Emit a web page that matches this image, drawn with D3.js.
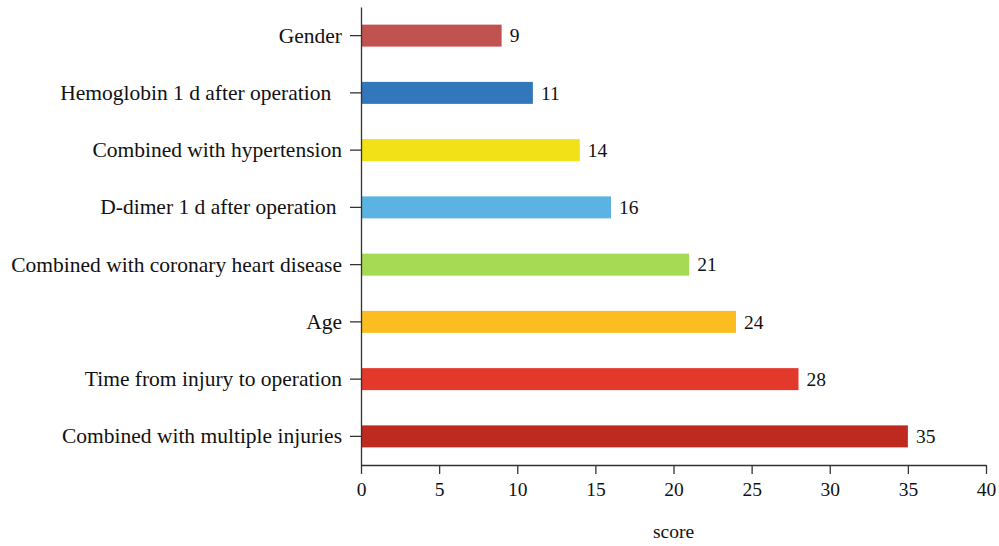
<!DOCTYPE html>
<html><head><meta charset="utf-8">
<script src="https://cdn.jsdelivr.net/npm/d3@7/dist/d3.min.js"></script>
<style>
body{margin:0;background:#fff;}
svg text{font-family:"Liberation Serif","DejaVu Serif",serif;fill:#111;white-space:pre;}
</style></head>
<body><svg id="c" width="999" height="546"></svg>
<script>
const categories = ["Gender","Hemoglobin 1 d after operation  ","Combined with hypertension","D-dimer 1 d after operation ","Combined with coronary heart disease","Age","Time from injury to operation","Combined with multiple injuries"];
const scores = [9,11,14,16,21,24,28,35];
const colors = ["#c0524f","#3277bb","#f2e116","#5ab3e0","#a6d954","#fbbd22","#e2392a","#bf2a20"];
const xTicks = [0,5,10,15,20,25,30,35,40];
const xTitle = "score";

const svg = d3.select("#c");
const x = d3.scaleLinear().domain([0,40]).range([361,986]);
const y = d3.scaleBand().domain(categories).range([7,465]).paddingInner(0.616).paddingOuter(0.308);

svg.selectAll("rect.bar").data(scores).join("rect")
  .attr("class","bar")
  .attr("x",x(0)).attr("y",(d,i)=>y(categories[i]))
  .attr("width",d=>x(d)-x(0)).attr("height",y.bandwidth())
  .attr("fill",(d,i)=>colors[i]);

svg.selectAll("text.val").data(scores).join("text")
  .attr("class","val")
  .attr("x",d=>x(d)+8).attr("y",(d,i)=>y(categories[i])+y.bandwidth()/2)
  .attr("dy","0.35em").style("font-size","19.5px").text(d=>d);

const gx = svg.append("g").attr("transform","translate(0,465)")
  .call(d3.axisBottom(x).tickValues(xTicks).tickSize(9).tickSizeOuter(0).tickPadding(8));
gx.selectAll("text").style("font-size","19.5px");

const gy = svg.append("g").attr("transform","translate(361,0)")
  .call(d3.axisLeft(y).tickSize(11).tickSizeOuter(0).tickPadding(8));
gy.selectAll("text").style("font-size","21.5px");

svg.selectAll(".domain, .tick line").attr("stroke","#333").attr("stroke-width",1.3);

svg.append("text").attr("x",(x(0)+x(40))/2).attr("y",538)
  .attr("text-anchor","middle").style("font-size","19.5px").text(xTitle);
</script></body></html>
